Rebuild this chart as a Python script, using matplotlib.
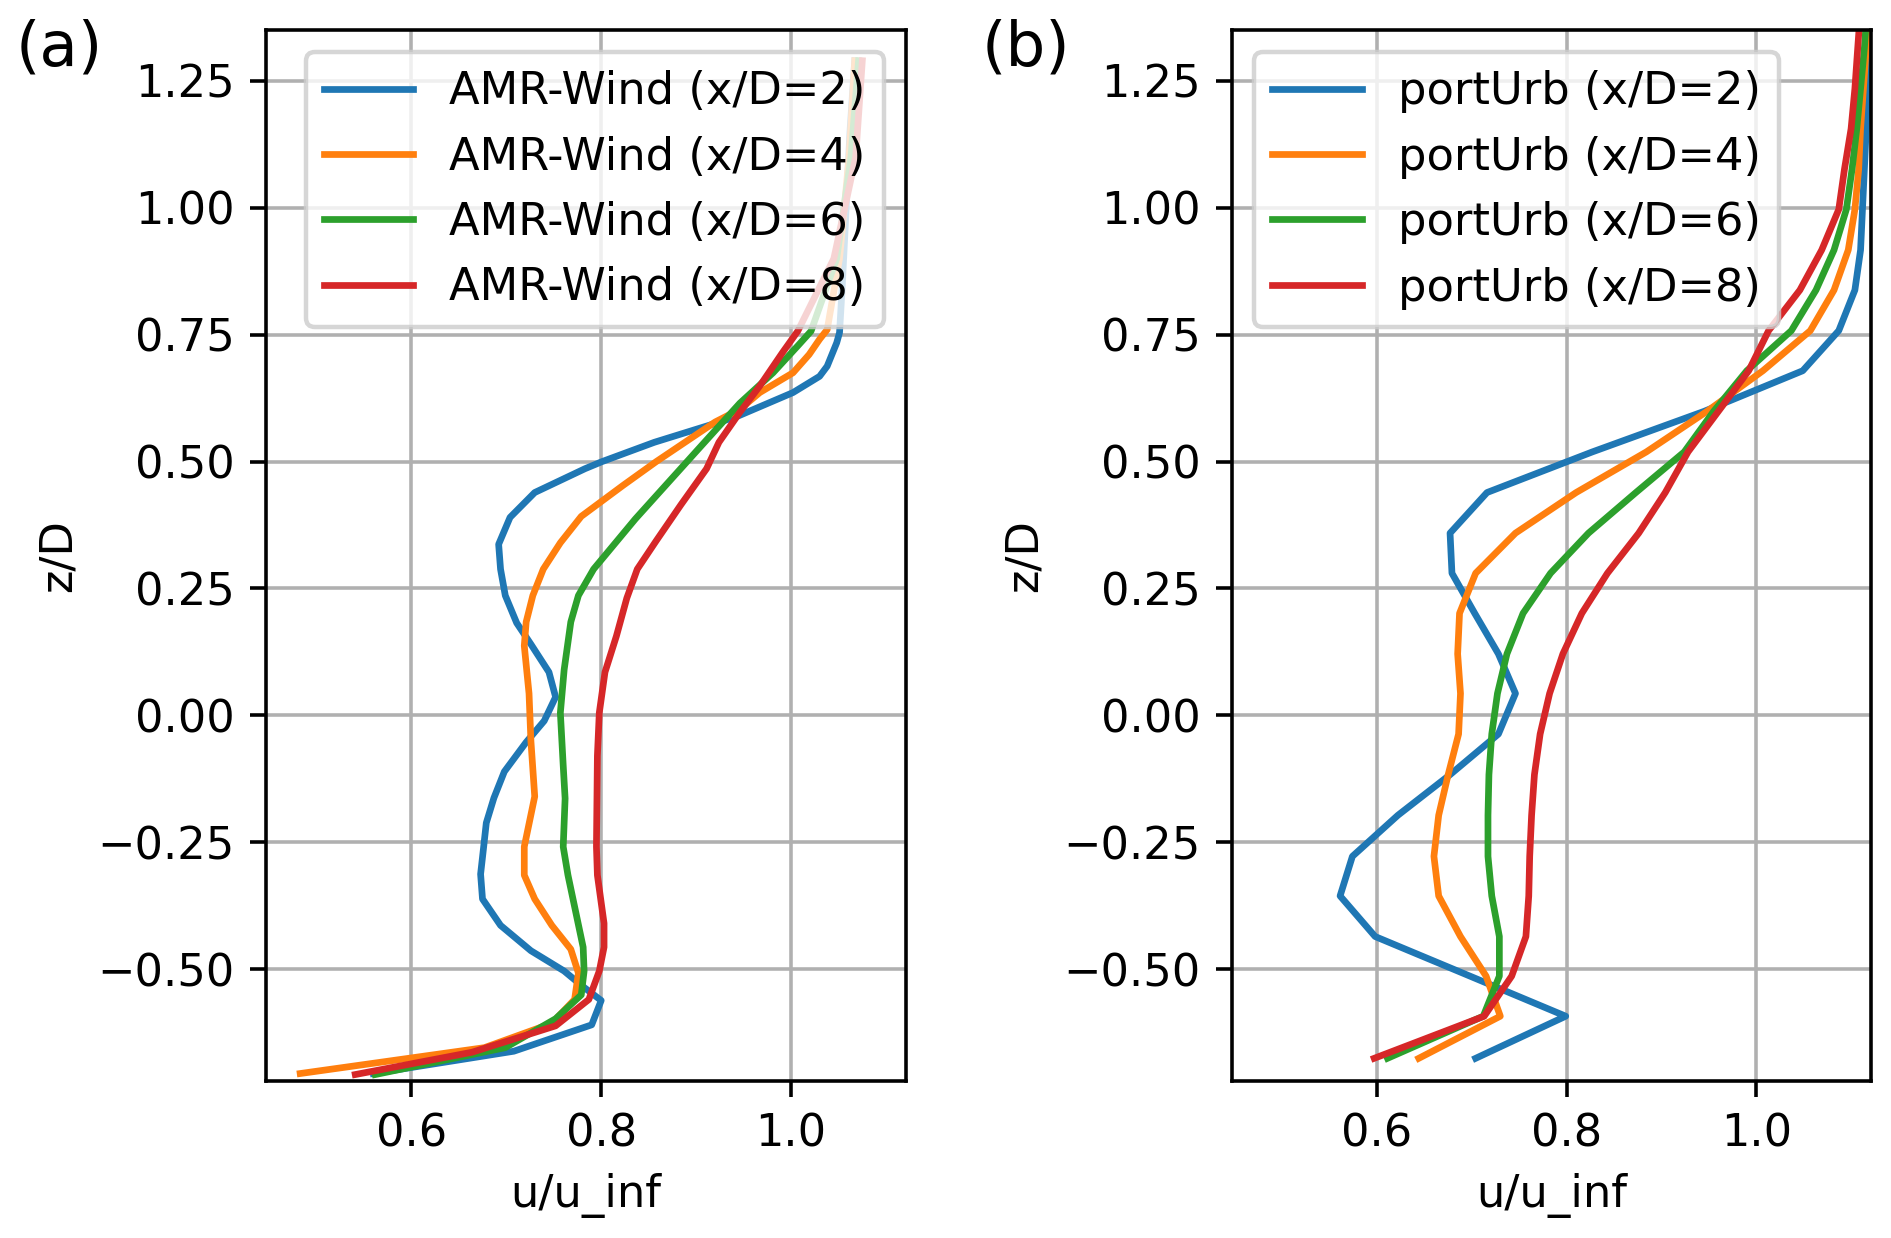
import matplotlib
matplotlib.use("Agg")
import matplotlib.pyplot as plt

# ---------------- Data: panel (a) AMR-Wind ----------------
z_amr2 = [-0.706, -0.662, -0.610, -0.562, -0.532, -0.504, -0.464, -0.414, -0.362, -0.313,
          -0.263, -0.212, -0.163, -0.111, -0.053, -0.011, 0.036, 0.085, 0.140, 0.182,
          0.236, 0.288, 0.337, 0.390, 0.439, 0.486, 0.500, 0.538, 0.588, 0.636, 0.668,
          0.688, 0.734, 0.754, 0.850, 1.000, 1.150, 1.290]
u_amr2 = [0.560, 0.708, 0.790, 0.800, 0.779, 0.761, 0.726, 0.694, 0.675, 0.673,
          0.676, 0.679, 0.687, 0.698, 0.721, 0.740, 0.752, 0.745, 0.726, 0.711,
          0.699, 0.694, 0.692, 0.704, 0.730, 0.783, 0.801, 0.856, 0.942, 1.002, 1.030,
          1.038, 1.048, 1.051, 1.054, 1.058, 1.062, 1.067]

z_amr4 = [-0.706, -0.655, -0.607, -0.560, -0.508, -0.461, -0.414, -0.362, -0.315, -0.259,
          -0.160, -0.051, 0.043, 0.137, 0.184, 0.236, 0.288, 0.340, 0.392, 0.453,
          0.500, 0.578, 0.603, 0.636, 0.675, 0.711, 0.741, 0.760, 0.900, 1.100, 1.290]
u_amr4 = [0.483, 0.677, 0.748, 0.772, 0.776, 0.768, 0.748, 0.730, 0.719, 0.719,
          0.730, 0.726, 0.724, 0.719, 0.721, 0.728, 0.739, 0.757, 0.779, 0.823,
          0.858, 0.920, 0.946, 0.967, 1.002, 1.019, 1.030, 1.038, 1.051, 1.061, 1.067]

z_amr6 = [-0.708, -0.655, -0.598, -0.551, -0.504, -0.457, -0.315, -0.259, -0.164, -0.099,
          0.005, 0.090, 0.184, 0.236, 0.288, 0.387, 0.524, 0.615, 0.675, 0.728,
          0.757, 0.900, 1.100, 1.290]
u_amr6 = [0.562, 0.699, 0.752, 0.779, 0.782, 0.781, 0.765, 0.760, 0.762, 0.760,
          0.757, 0.761, 0.768, 0.776, 0.792, 0.836, 0.902, 0.946, 0.981, 1.007,
          1.021, 1.048, 1.063, 1.071]

z_amr8 = [-0.708, -0.664, -0.612, -0.560, -0.504, -0.457, -0.410, -0.315, -0.259, -0.080,
          0.005, 0.085, 0.156, 0.231, 0.288, 0.344, 0.415, 0.486, 0.538, 0.597,
          0.649, 0.715, 0.757, 0.900, 1.100, 1.290]
u_amr8 = [0.541, 0.664, 0.752, 0.787, 0.798, 0.803, 0.803, 0.796, 0.795, 0.796,
          0.798, 0.804, 0.816, 0.827, 0.838, 0.858, 0.884, 0.911, 0.924, 0.946,
          0.967, 0.991, 1.007, 1.045, 1.068, 1.075]

# ---------------- Data: panel (b) portUrb ----------------
z_pu = [-0.676, -0.593, -0.514, -0.436, -0.356, -0.278, -0.197, -0.117, -0.037, 0.043,
        0.121, 0.201, 0.280, 0.359, 0.439, 0.519, 0.599, 0.679, 0.758, 0.838,
        0.917, 0.997, 1.076, 1.156, 1.235, 1.315, 1.394]
u_pu2 = [0.704, 0.799, 0.698, 0.598, 0.561, 0.574, 0.622, 0.677, 0.728, 0.746,
         0.728, 0.703, 0.679, 0.677, 0.716, 0.827, 0.945, 1.049, 1.087, 1.104,
         1.110, 1.112, 1.114, 1.116, 1.117, 1.119, 1.121]
u_pu4 = [0.644, 0.730, 0.715, 0.688, 0.665, 0.660, 0.665, 0.675, 0.686, 0.688,
         0.685, 0.687, 0.704, 0.746, 0.810, 0.884, 0.948, 1.007, 1.057, 1.082,
         1.097, 1.104, 1.108, 1.110, 1.113, 1.116, 1.119]
u_pu6 = [0.611, 0.712, 0.729, 0.729, 0.721, 0.717, 0.717, 0.718, 0.721, 0.727,
         0.737, 0.754, 0.783, 0.823, 0.873, 0.924, 0.955, 0.990, 1.037, 1.063,
         1.082, 1.095, 1.101, 1.106, 1.110, 1.114, 1.117]
u_pu8 = [0.597, 0.713, 0.742, 0.757, 0.760, 0.761, 0.763, 0.766, 0.772, 0.782,
         0.796, 0.816, 0.843, 0.876, 0.904, 0.928, 0.960, 0.992, 1.013, 1.046,
         1.069, 1.087, 1.093, 1.100, 1.104, 1.107, 1.110]

stations = ["x/D=2", "x/D=4", "x/D=6", "x/D=8"]
colors = ["#1f77b4", "#ff7f0e", "#2ca02c", "#d62728"]

W, H = 1892, 1238
DPI = 322.5
fig = plt.figure(figsize=(W / DPI, H / DPI), dpi=DPI)
axL = fig.add_axes([266 / W, 1 - 1081 / H, 640 / W, 1051 / H])
axR = fig.add_axes([1232 / W, 1 - 1081 / H, 639 / W, 1051 / H])

amr = [(z_amr2, u_amr2), (z_amr4, u_amr4), (z_amr6, u_amr6), (z_amr8, u_amr8)]
for (z, u), st, c in zip(amr, stations, colors):
    axL.plot(u, z, color=c, lw=1.5, label=f"AMR-Wind ({st})")

for u, st, c in zip([u_pu2, u_pu4, u_pu6, u_pu8], stations, colors):
    axR.plot(u, z_pu, color=c, lw=1.5, label=f"portUrb ({st})")

for ax, loc in ((axL, "upper right"), (axR, "upper left")):
    ax.set_xlim(0.447, 1.121)
    ax.set_ylim(-0.7207, 1.3505)
    ax.set_xticks([0.6, 0.8, 1.0])
    ax.set_yticks([-0.5, -0.25, 0.0, 0.25, 0.5, 0.75, 1.0, 1.25])
    ax.grid(True)
    ax.set_xlabel("u/u_inf")
    ax.set_ylabel("z/D")
    ax.legend(loc=loc)

fig.text(16 / W, 1 - 48 / H, "(a)", fontsize=14, ha="left", va="center")
fig.text(982 / W, 1 - 48 / H, "(b)", fontsize=14, ha="left", va="center")

fig.savefig("out.png", dpi=DPI)
